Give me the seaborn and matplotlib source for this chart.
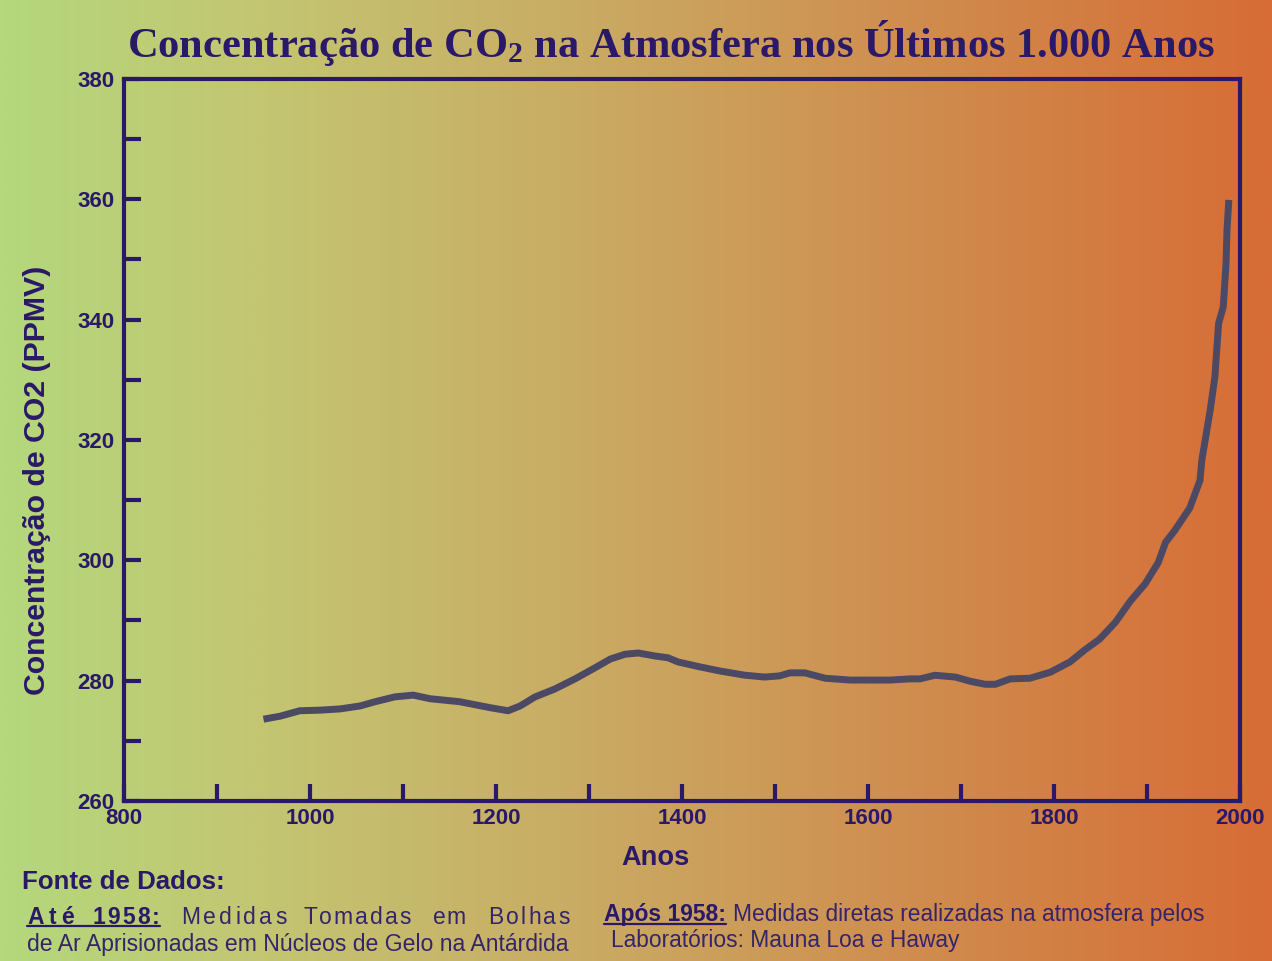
import numpy as np
import pandas as pd
import matplotlib
matplotlib.use("Agg")
import matplotlib.pyplot as plt
from matplotlib.colors import LinearSegmentedColormap
from matplotlib.lines import Line2D
from matplotlib.ticker import MultipleLocator, FuncFormatter
import seaborn as sns

# CO2 concentration (ppmv) over the last millennium
anos = [950, 968, 989, 1011, 1032, 1054, 1070, 1091, 1111, 1129, 1161, 1194,
        1213, 1226, 1242, 1263, 1285, 1306, 1323, 1339, 1353, 1371, 1385,
        1396, 1419, 1441, 1468, 1489, 1505, 1516, 1532, 1554, 1581, 1624,
        1645, 1656, 1672, 1694, 1710, 1726, 1737, 1753, 1774, 1796, 1817,
        1833, 1849, 1866, 1882, 1898, 1912, 1920, 1930, 1946, 1957, 1959,
        1968, 1973, 1975, 1977, 1982, 1985, 1986, 1988]
co2 = [273.6, 274.1, 275.0, 275.1, 275.3, 275.8, 276.5, 277.3, 277.6, 277.0,
       276.5, 275.5, 275.0, 275.8, 277.3, 278.6, 280.3, 282.1, 283.6, 284.4,
       284.6, 284.1, 283.8, 283.1, 282.3, 281.6, 280.9, 280.6, 280.8, 281.3,
       281.3, 280.4, 280.1, 280.1, 280.3, 280.3, 280.9, 280.6, 279.9, 279.4,
       279.4, 280.3, 280.4, 281.4, 283.1, 285.1, 286.9, 289.7, 293.2, 296.1,
       299.6, 303.0, 305.0, 308.7, 313.3, 316.7, 325.0, 330.5, 335.0, 339.4,
       342.1, 349.4, 354.9, 359.9]

titulo = "Concentração de CO$_{2}$ na Atmosfera nos Últimos 1.000 Anos"
rotulo_y = "Concentração de CO2 (PPMV)"
rotulo_x = "Anos"

NAVY = "#2a1868"
TEXT = "#34246a"
LINE = "#4b4964"
W, H = 1272, 961

df = pd.DataFrame({"Anos": anos, "CO2": co2})

sns.set_style("ticks")
plt.rcParams["font.family"] = ["Liberation Sans", "DejaVu Sans"]
plt.rcParams["mathtext.default"] = "regular"

fig = plt.figure(figsize=(12.72, 9.61), dpi=100)
renderer = fig.canvas.get_renderer()

# horizontal colour wash behind everything
bg = fig.add_axes([0, 0, 1, 1], zorder=0)
cmap = LinearSegmentedColormap.from_list(
    "wash",
    [(0.0, "#b4d87c"), (0.2, "#c3c672"), (0.45, "#c9ac64"),
     (0.7, "#cf8f50"), (1.0, "#d76c36")])
bg.imshow(np.linspace(0, 1, 512)[None, :], aspect="auto", cmap=cmap,
          extent=[0, 1, 0, 1])
bg.set_axis_off()

ax = fig.add_axes([124 / W, 160 / H, 1116 / W, 722 / H], zorder=1)
ax.patch.set_alpha(0)

sns.lineplot(data=df, x="Anos", y="CO2", ax=ax, color=LINE, linewidth=5,
             solid_capstyle="butt", solid_joinstyle="round")

ax.set_xlim(800, 2000)
ax.set_ylim(260, 380)
ax.xaxis.set_major_locator(MultipleLocator(100))
ax.yaxis.set_major_locator(MultipleLocator(10))
ax.xaxis.set_major_formatter(FuncFormatter(
    lambda v, p: f"{int(round(v))}" if int(round(v)) % 200 == 0 else ""))
ax.yaxis.set_major_formatter(FuncFormatter(
    lambda v, p: f"{int(round(v))}" if int(round(v)) % 20 == 0 else ""))

for s in ax.spines.values():
    s.set_visible(True)
    s.set_linewidth(3)
    s.set_color(NAVY)
ax.tick_params(axis="both", direction="in", length=12, width=3, color=NAVY,
               labelcolor=NAVY, labelsize=16)
ax.tick_params(axis="x", pad=5)
ax.tick_params(axis="y", pad=7)
for lbl in ax.get_xticklabels() + ax.get_yticklabels():
    lbl.set_fontweight("bold")
ax.set_xlabel("")
ax.set_ylabel("")


def fitted(x, y, s, width, size, **kw):
    """Place text at pixel (x, y) and rescale its font to span `width` px."""
    t = fig.text(x / W, 1 - y / H, s, fontsize=size, **kw)
    bb = t.get_window_extent(renderer)
    span = bb.height if kw.get("rotation", 0) == 90 else bb.width
    t.set_fontsize(size * width / span)
    return t


def underline_span(x0, x1, ybottom, lift=3):
    yy = (ybottom + lift) / H
    fig.add_artist(Line2D([x0 / W, x1 / W], [yy, yy], color=NAVY,
                          linewidth=1.6, transform=fig.transFigure))


def spaced(x0, x1, y, word, size, weight="normal", color=TEXT):
    """Draw one word with its letters spread evenly between x0 and x1."""
    widths = []
    for ch in word:
        t = fig.text(0, 0, ch, fontsize=size, fontweight=weight)
        widths.append(t.get_window_extent(renderer).width)
        t.remove()
    gap = (x1 - x0 - sum(widths)) / max(len(word) - 1, 1)
    x = x0
    bottom = None
    for ch, w in zip(word, widths):
        t = fig.text(x / W, 1 - y / H, ch, fontsize=size, color=color,
                     fontweight=weight, ha="left", va="center")
        b = t.get_window_extent(renderer).y0
        bottom = b if bottom is None else min(bottom, b)
        x += w + gap
    return bottom


fitted(37, 480, rotulo_y, 430, 20, rotation=90, ha="center", va="center",
       fontweight="bold", color=NAVY)
fitted(655, 858, rotulo_x, 68, 20, ha="center", va="center",
       fontweight="bold", color=NAVY)
fitted(671, 57, titulo, 1087, 30, ha="center", va="baseline",
       fontfamily="Liberation Serif", fontweight="bold", color=NAVY)

# data source notes
fitted(22, 882, "Fonte de Dados:", 203, 17, ha="left", va="center",
       fontweight="bold", color=NAVY)

yb1 = spaced(27, 74, 917, "Até", 16.5, weight="bold", color=NAVY)
yb2 = spaced(92, 160, 917, "1958:", 16.5, weight="bold", color=NAVY)
underline_span(27, 160, min(yb1, yb2))
for wx0, wx1, w in [(181, 287, "Medidas"), (303, 411, "Tomadas"),
                    (433, 466, "em"), (488, 570, "Bolhas")]:
    spaced(wx0, wx1, 917, w, 16.5)
fitted(27, 944, "de Ar Aprisionadas em Núcleos de Gelo na Antárdida", 543,
       16, ha="left", va="center", color=TEXT)

ta = fitted(604, 915, "Após 1958:", 122, 16, ha="left", va="center",
            fontweight="bold", color=NAVY)
ba = ta.get_window_extent(renderer)
underline_span(ba.x0, ba.x1, ba.y0)
fitted(733, 915, "Medidas diretas realizadas na atmosfera pelos", 472, 16,
       ha="left", va="center", color=TEXT)
fitted(611, 941, "Laboratórios: Mauna Loa e Haway", 348, 16, ha="left",
       va="center", color=TEXT)

fig.savefig("out.png", dpi=100)
